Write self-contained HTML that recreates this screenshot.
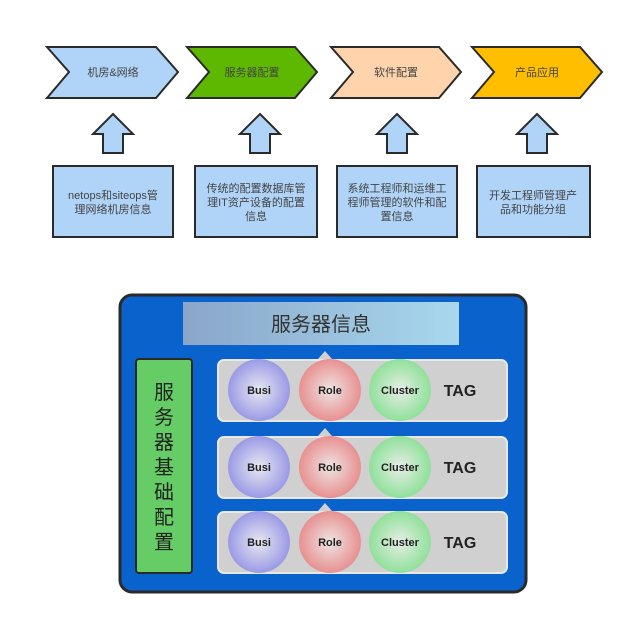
<!DOCTYPE html><html><head><style>body{margin:0;background:#fff}svg{display:block}</style></head><body>
<svg width="634" height="625" viewBox="0 0 634 625" xmlns="http://www.w3.org/2000/svg" font-family="Liberation Sans, Noto Sans CJK SC, sans-serif">
<defs>
<linearGradient id="hd" x1="0" x2="1"><stop offset="0" stop-color="#8aa6c9"/><stop offset="1" stop-color="#a8d8ee"/></linearGradient>
<radialGradient id="gb"><stop offset="0" stop-color="#e8e8f0"/><stop offset="1" stop-color="#9a9ae6"/></radialGradient>
<radialGradient id="gr"><stop offset="0" stop-color="#eee4e4"/><stop offset="1" stop-color="#e89090"/></radialGradient>
<radialGradient id="gg"><stop offset="0" stop-color="#e6eee6"/><stop offset="1" stop-color="#90e09a"/></radialGradient>
</defs>
<g stroke="#2a2a2a" stroke-width="2">
<polygon points="47,47 156,47 178,72 156,98 47,98 69,72" fill="#b0d4f8"/>
<polygon points="187,47 295,47 317,72 295,98 187,98 209,72" fill="#5eb800"/>
<polygon points="331,47 439,47 461,72 439,98 331,98 353,72" fill="#ffd4ac"/>
<polygon points="472,47 580,47 602,72 580,98 472,98 494,72" fill="#ffbe00"/>
<g fill="#b0d4f8">
<polygon points="113,114 133,134 123,134 123,153 103,153 103,134 93,134"/>
<polygon points="260,114 280,134 270,134 270,153 250,153 250,134 240,134"/>
<polygon points="397,114 417,134 407,134 407,153 387,153 387,134 377,134"/>
<polygon points="537,114 557,134 547,134 547,153 527,153 527,134 517,134"/>
<rect x="53" y="166" width="120" height="71"/>
<rect x="195" y="166" width="122" height="71"/>
<rect x="337" y="166" width="120" height="71"/>
<rect x="477" y="166" width="113" height="71"/>
</g></g>
<g font-size="11" fill="#444" text-anchor="middle">
<text x="113" y="76">机房&amp;网络</text>
<text x="252" y="76">服务器配置</text>
<text x="396" y="76">软件配置</text>
<text x="537" y="76">产品应用</text>
<text x="113" y="199">netops和siteops管</text><text x="113" y="213">理网络机房信息</text>
<text x="256" y="192">传统的配置数据库管</text><text x="256" y="206">理IT资产设备的配置</text><text x="256" y="220">信息</text>
<text x="397" y="192">系统工程师和运维工</text><text x="397" y="206">程师管理的软件和配</text><text x="397" y="220">置信息</text>
<text x="533" y="199">开发工程师管理产</text><text x="533" y="213">品和功能分组</text>
</g>
<rect x="120" y="295" width="406" height="297" rx="12" fill="#0a62cc" stroke="#2a2a2a" stroke-width="3"/>
<rect x="183" y="302" width="276" height="43" fill="url(#hd)"/>
<text x="321" y="331" font-size="20" fill="#333" text-anchor="middle">服务器信息</text>
<rect x="136" y="359" width="56" height="214" rx="3" fill="#66cc66" stroke="#2a2a2a" stroke-width="2"/>
<g font-size="20" fill="#222" text-anchor="middle">
<text x="164" y="399">服</text><text x="164" y="424">务</text><text x="164" y="449">器</text><text x="164" y="474">基</text><text x="164" y="499">础</text><text x="164" y="524">配</text><text x="164" y="549">置</text>
</g>
<g>
<rect x="218" y="360" width="289" height="61" rx="6" fill="#d0d0d0" stroke="#e8e8e8" stroke-width="2"/>
<rect x="218" y="437" width="289" height="61" rx="6" fill="#d0d0d0" stroke="#e8e8e8" stroke-width="2"/>
<rect x="218" y="512" width="289" height="61" rx="6" fill="#d0d0d0" stroke="#e8e8e8" stroke-width="2"/>
<polygon points="318,359 325,351 332,359" fill="#d0d0d0"/>
<polygon points="318,436 325,428 332,436" fill="#d0d0d0"/>
<polygon points="318,511 325,503 332,511" fill="#d0d0d0"/>
</g>
<g font-size="11" font-weight="bold" fill="#222" text-anchor="middle">
<circle cx="259" cy="390" r="31" fill="url(#gb)"/><circle cx="330" cy="390" r="31" fill="url(#gr)"/><circle cx="400" cy="390" r="31" fill="url(#gg)"/>
<circle cx="259" cy="467" r="31" fill="url(#gb)"/><circle cx="330" cy="467" r="31" fill="url(#gr)"/><circle cx="400" cy="467" r="31" fill="url(#gg)"/>
<circle cx="259" cy="542" r="31" fill="url(#gb)"/><circle cx="330" cy="542" r="31" fill="url(#gr)"/><circle cx="400" cy="542" r="31" fill="url(#gg)"/>
<text x="259" y="394">Busi</text><text x="330" y="394">Role</text><text x="400" y="394">Cluster</text>
<text x="259" y="471">Busi</text><text x="330" y="471">Role</text><text x="400" y="471">Cluster</text>
<text x="259" y="546">Busi</text><text x="330" y="546">Role</text><text x="400" y="546">Cluster</text>
<g font-size="16"><text x="460" y="396">TAG</text><text x="460" y="473">TAG</text><text x="460" y="548">TAG</text></g>
</g>
</svg>
</body></html>
